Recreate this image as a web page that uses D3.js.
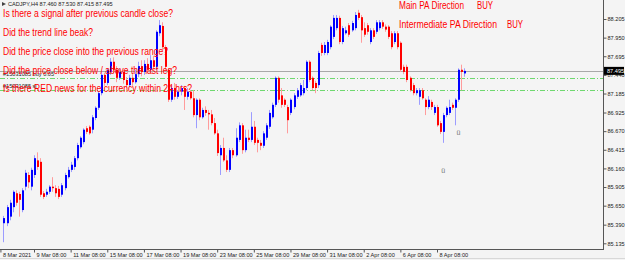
<html>
<head>
  <script src="https://d3js.org/d3.v7.min.js"></script>
  <style>
    body { margin: 0; background: #f4f4f4; }
    svg text { font-family: "Liberation Sans", Arial, sans-serif; }
    .small { font-size: 5.6px; fill: #222; }
    .note { font-size: 10px; fill: #ff0000; }
  </style>
</head>
<body>
<svg id="chart" width="625" height="260"></svg>
<script>
// CADJPY H4 candles, oldest first
const open = [
85.41,85.41,85.50,85.63,85.82,85.81,85.59,85.91,86.07,85.91,
86.07,86.27,86.25,85.82,85.80,85.84,85.91,85.89,85.88,85.80,
85.89,86.04,86.14,86.18,86.30,86.45,86.52,86.71,86.73,86.69,
86.85,86.99,87.19,87.44,87.33,87.48,87.62,87.51,87.40,87.48,
87.37,87.30,87.40,87.34,87.45,87.56,87.48,87.59,87.51,87.64,
87.55,88.01,88.11,87.82,87.51,87.10,87.26,87.14,87.21,87.26,
87.14,87.21,87.12,86.89,87.10,86.86,86.96,86.92,86.90,86.78,
86.64,86.34,86.44,86.27,86.14,86.41,86.34,86.55,86.75,86.41,
86.58,86.55,86.73,86.55,86.51,86.47,86.58,86.73,86.86,87.03,
87.40,87.16,87.10,87.00,86.92,87.00,87.14,87.16,87.19,87.26,
87.62,87.40,87.33,87.30,87.85,87.74,87.74,87.82,87.96,88.08,
88.22,87.89,88.01,88.12,88.05,88.08,88.29,88.23,88.08,88.12,
87.89,88.05,88.03,88.08,88.16,88.10,88.10,88.01,87.89,88.01,
87.88,87.55,87.55,87.40,87.30,87.19,87.14,87.23,87.10,87.00,
87.07,86.92,87.00,86.78,86.66,86.89,86.92,87.03,86.99,87.10,
87.51,87.46];
const high = [
85.51,85.66,85.73,85.86,85.86,85.84,85.89,86.14,86.11,86.17,
86.34,86.38,86.30,85.85,85.88,85.93,86.04,85.93,85.92,85.96,
86.10,86.18,86.25,86.33,86.51,86.60,86.71,86.74,86.75,86.89,
87.01,87.22,87.48,87.47,87.53,87.67,87.68,87.56,87.53,87.51,
87.41,87.44,87.45,87.51,87.62,87.64,87.64,87.67,87.71,87.70,
88.05,88.19,88.16,87.85,87.53,87.30,87.33,87.23,87.30,87.29,
87.26,87.23,87.23,87.12,87.12,86.99,87.01,86.96,86.96,86.85,
86.69,86.48,86.58,86.34,86.44,86.44,86.71,86.79,86.78,86.69,
86.69,86.93,86.81,86.58,86.55,86.67,86.78,86.96,87.06,87.42,
87.42,87.26,87.12,87.03,87.12,87.19,87.26,87.33,87.37,87.64,
87.64,87.42,87.36,87.77,87.88,87.89,87.92,88.12,88.26,88.26,
88.25,88.11,88.10,88.15,88.18,88.30,88.33,88.26,88.16,88.15,
88.08,88.08,88.19,88.19,88.19,88.13,88.12,88.04,88.04,88.04,
87.90,87.58,87.58,87.42,87.33,87.26,87.26,87.26,87.12,87.15,
87.10,87.03,87.03,86.81,86.92,87.01,87.10,87.06,87.12,87.53,
87.58,87.53];
const low = [
85.15,85.37,85.45,85.56,85.65,85.50,85.56,85.86,85.89,85.86,
86.03,86.14,85.77,85.74,85.77,85.81,85.84,85.77,85.74,85.77,
85.86,86.02,86.11,86.14,86.27,86.43,86.49,86.63,86.62,86.64,
86.82,86.96,87.16,87.29,87.30,87.44,87.47,87.34,87.37,87.32,
87.26,87.27,87.29,87.32,87.41,87.42,87.44,87.47,87.48,87.51,
87.51,87.97,87.78,87.51,87.07,87.07,87.10,87.11,87.16,86.96,
87.10,87.10,86.86,86.71,86.82,86.84,86.88,86.69,86.75,86.62,
86.33,86.07,86.25,86.11,86.11,86.30,86.32,86.52,86.36,86.38,
86.52,86.52,86.48,86.38,86.41,86.44,86.55,86.70,86.84,87.00,
87.06,86.99,87.00,86.64,86.89,86.97,87.11,87.14,87.16,87.23,
87.34,87.23,87.19,87.26,87.70,87.71,87.71,87.79,87.93,88.05,
87.86,87.86,87.99,87.96,88.03,88.05,88.19,87.88,87.96,87.99,
87.86,87.93,88.00,88.05,88.07,88.03,87.93,87.79,87.86,87.79,
87.48,87.45,87.34,87.21,87.16,87.16,87.03,87.10,86.89,86.97,
86.96,86.89,86.73,86.63,86.51,86.86,86.89,86.96,86.75,87.07,
87.23,87.415];
const close = [
85.48,85.63,85.69,85.84,85.69,85.73,85.86,86.10,85.97,86.14,
86.30,86.18,85.80,85.77,85.84,85.91,85.89,85.82,85.77,85.93,
86.07,86.14,86.21,86.30,86.48,86.58,86.69,86.66,86.64,86.86,
86.99,87.19,87.44,87.33,87.51,87.62,87.51,87.40,87.48,87.37,
87.30,87.40,87.34,87.45,87.56,87.48,87.59,87.51,87.64,87.55,
88.03,88.12,87.82,87.55,87.10,87.26,87.14,87.21,87.26,87.14,
87.21,87.12,86.89,87.10,86.86,86.96,86.92,86.90,86.78,86.64,
86.37,86.44,86.27,86.14,86.41,86.34,86.58,86.75,86.41,86.58,
86.55,86.73,86.51,86.51,86.47,86.64,86.75,86.92,87.03,87.40,
87.10,87.03,87.03,86.82,87.10,87.16,87.23,87.30,87.26,87.62,
87.37,87.26,87.26,87.74,87.74,87.85,87.89,88.10,88.22,88.22,
87.89,88.08,88.05,87.99,88.15,88.26,88.22,88.05,87.99,88.03,
88.05,87.96,88.16,88.16,88.10,88.06,87.96,87.82,88.01,87.82,
87.51,87.48,87.37,87.23,87.19,87.23,87.23,87.12,87.00,87.10,
87.00,87.00,86.75,86.66,86.89,86.99,87.00,86.99,87.10,87.51,
87.48,87.495];

const priceTicks = [88.205, 87.950, 87.695, 87.440, 87.185, 86.925, 86.670, 86.415, 86.160, 85.905, 85.650, 85.390, 85.135];
const timeLabels = ["8 Mar 2021", "9 Mar 08:00", "11 Mar 08:00", "15 Mar 08:00", "17 Mar 08:00", "19 Mar 08:00",
  "23 Mar 08:00", "25 Mar 08:00", "29 Mar 08:00", "31 Mar 08:00", "2 Apr 08:00", "6 Apr 08:00", "8 Apr 08:00"];
const timeIndex = [-1, 10, 22, 34, 46, 58, 70, 82, 94, 106, 118, 130, 142];

const bidPrice = 87.495;
const orderLevels = [87.400, 87.235];
const orderLabels = ["#15031085 buy 0.05", "#15031085 sl"];
const questions = [
  "Is there a signal after previous candle close?",
  "Did the trend line beak?",
  "Did the price close into the previous range?",
  "Did the price close below / above the last leg?",
  "Is there RED news for the currency within 24 hrs?"
];
const questionWidths = [170, 90, 165, 174, 189];
const arrowBars = [144, 149];
const arrowPrices = [86.10, 86.62];

const svg = d3.select("svg#chart");
const plotRight = 603, plotBottom = 249;

const x = d3.scaleLinear().domain([10, 142]).range([34, 437]);
const y = d3.scaleLinear().domain([85.135, 88.205]).range([243.3, 19]);

const candles = open.map((o, i) => ({i: i, o: o, h: high[i], l: low[i], c: close[i]}));

// price lines
svg.append("line")
   .attr("x1", 0).attr("x2", plotRight)
   .attr("y1", Math.round(y(bidPrice)) + 0.5).attr("y2", Math.round(y(bidPrice)) + 0.5)
   .attr("stroke", "#a9a9a9").attr("stroke-width", 1.2);

svg.selectAll("line.order").data(orderLevels)
   .join("line")
   .attr("class", "order")
   .attr("x1", 0).attr("x2", plotRight)
   .attr("y1", d => Math.round(y(d)) + 0.5).attr("y2", d => Math.round(y(d)) + 0.5)
   .attr("stroke", "#6fd86f").attr("stroke-width", 1)
   .attr("stroke-dasharray", "5,2,1,2");

svg.selectAll("text.order").data(orderLabels)
   .join("text")
   .attr("class", "small order")
   .attr("x", 3)
   .attr("y", (d, i) => y(orderLevels[i]) - 1.5)
   .text(d => d);

// candles
const g = svg.append("g");
g.selectAll("line.wick").data(candles)
   .join("line")
   .attr("class", "wick")
   .attr("x1", d => Math.round(x(d.i)) + 0.5).attr("x2", d => Math.round(x(d.i)) + 0.5)
   .attr("y1", d => y(d.h)).attr("y2", d => y(d.l))
   .attr("stroke", d => d.c >= d.o ? "#9c9cff" : "#ff9c9c");

g.selectAll("rect.body").data(candles)
   .join("rect")
   .attr("class", "body")
   .attr("x", d => Math.round(x(d.i)))
   .attr("width", 2)
   .attr("y", d => y(Math.max(d.o, d.c)))
   .attr("height", d => Math.max(1, Math.abs(y(d.o) - y(d.c))))
   .attr("fill", d => d.c >= d.o ? "#0000ff" : "#ff0000");

// arrows under the last swing
svg.selectAll("text.arrow").data(arrowBars)
   .join("text")
   .attr("class", "arrow")
   .attr("x", d => x(d))
   .attr("y", (d, i) => y(arrowPrices[i]))
   .attr("text-anchor", "middle")
   .attr("font-size", "7px")
   .attr("fill", "#777")
   .text("\u00fc");

// axes frame
svg.append("line").attr("x1", plotRight + 0.5).attr("x2", plotRight + 0.5)
   .attr("y1", 0).attr("y2", plotBottom).attr("stroke", "#555");
svg.append("line").attr("x1", 0).attr("x2", plotRight + 1)
   .attr("y1", plotBottom + 0.5).attr("y2", plotBottom + 0.5).attr("stroke", "#555");
svg.append("line").attr("x1", 0).attr("x2", 625)
   .attr("y1", 258.5).attr("y2", 258.5).attr("stroke", "#d8d8d8");

const rightAxis = d3.axisRight(y).tickValues(priceTicks).tickSize(3)
   .tickFormat(d3.format(".3f"));
const ra = svg.append("g")
   .attr("transform", "translate(" + (plotRight + 0.5) + ",0)")
   .call(rightAxis);
ra.select(".domain").remove();
ra.selectAll("line").attr("stroke", "#555");
ra.selectAll("text").attr("class", "small").attr("x", 4).attr("font-size", null).attr("font-family", null);

const bottomAxis = d3.axisBottom(x).tickValues(timeIndex).tickSize(3)
   .tickFormat((d, i) => timeLabels[i]);
const ba = svg.append("g")
   .attr("transform", "translate(0," + (plotBottom + 0.5) + ")")
   .call(bottomAxis);
ba.select(".domain").remove();
ba.selectAll("line").attr("stroke", "#555");
ba.selectAll("text").attr("class", "small").attr("text-anchor", "start")
   .attr("x", 2).attr("dy", "0.2em").attr("font-size", null).attr("font-family", null);

// current price box
const by = y(bidPrice);
svg.append("rect").attr("x", plotRight + 1).attr("y", by - 4)
   .attr("width", 20).attr("height", 8).attr("fill", "#000");
svg.append("text").attr("class", "small").attr("x", plotRight + 4).attr("y", by + 2)
   .attr("fill", "#fff").style("fill", "#fff").text(d3.format(".3f")(bidPrice));

// header
svg.append("path").attr("d", "M2,2 L6,4 L2,6 Z").attr("fill", "#444");
svg.append("text").attr("class", "small").attr("x", 8).attr("y", 6)
   .text("CADJPY,H4  " + [open[open.length - 1], high[high.length - 1], low[low.length - 1], close[close.length - 1]]
     .map(d3.format(".3f")).join(" "));

// checklist notes
svg.selectAll("text.note").data(questions)
   .join("text")
   .attr("class", "note")
   .attr("x", 3)
   .attr("y", (d, i) => 16.8 + i * 18.9)
   .attr("textLength", (d, i) => questionWidths[i])
   .attr("lengthAdjust", "spacingAndGlyphs")
   .text(d => d);

const dirLabels = ["Main PA Direction", "Intermediate PA Direction"];
const dirValues = ["BUY", "BUY"];
const dirWidths = [65, 98];
const dirValueX = [477, 507];
dirLabels.forEach((d, i) => {
  svg.append("text").attr("class", "note").attr("x", 399).attr("y", 8.6 + i * 19)
     .attr("textLength", dirWidths[i]).attr("lengthAdjust", "spacingAndGlyphs").text(d);
  svg.append("text").attr("class", "note").attr("x", dirValueX[i]).attr("y", 8.6 + i * 19)
     .attr("textLength", 16).attr("lengthAdjust", "spacingAndGlyphs").text(dirValues[i]);
});
</script>
</body>
</html>
